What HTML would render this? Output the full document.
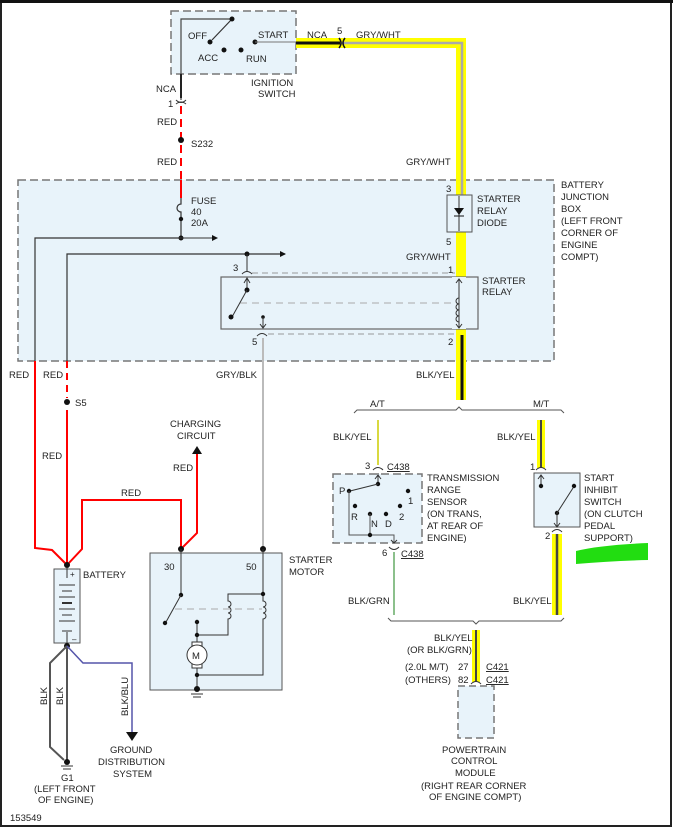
<!DOCTYPE html>
<html><head><style>
html,body{margin:0;padding:0;background:#fff}
svg{display:block}
text{font-family:"Liberation Sans",Arial,sans-serif;font-size:9.5px;fill:#222}
</style></head><body>
<svg width="673" height="827" viewBox="0 0 673 827" xmlns="http://www.w3.org/2000/svg">
<rect x="0" y="0" width="673" height="827" fill="#fff"/>
<rect x="1" y="1" width="670" height="825" fill="none" stroke="#222" stroke-width="2"/>
<line x1="0" y1="1.5" x2="673" y2="1.5" stroke="#111" stroke-width="3"/>

<!-- Battery junction box -->
<rect x="18" y="180" width="536" height="181" fill="#e8f3fa" stroke="#777" stroke-width="1.5" stroke-dasharray="8,4"/>
<!-- Ignition switch box -->
<rect x="171" y="11" width="125" height="63" fill="#e8f3fa" stroke="#777" stroke-width="1.5" stroke-dasharray="8,4"/>

<!-- yellow highlight top wire -->
<path d="M296,43 H461 V400" fill="none" stroke="#ffff00" stroke-width="10"/>
<path d="M341,43 H462 V195" fill="none" stroke="#aaa" stroke-width="2.5"/>
<line x1="296" y1="43" x2="340" y2="43" stroke="#111" stroke-width="3"/>
<path d="M339,38 q4,5 0,10" fill="none" stroke="#111" stroke-width="1.5"/>
<path d="M345,38 q-4,5 0,10" fill="none" stroke="#111" stroke-width="1.5"/>
<text x="307" y="38">NCA</text><text x="337" y="34">5</text><text x="356" y="38">GRY/WHT</text>

<!-- ignition switch internals -->
<path d="M181,100 V19 H232" fill="none" stroke="#444" stroke-width="1.2"/>
<line x1="232" y1="19" x2="212" y2="40" stroke="#333" stroke-width="1.2"/>
<circle cx="232" cy="19" r="2.5" fill="#111"/>
<circle cx="210" cy="42" r="2.5" fill="#111"/>
<circle cx="224" cy="50" r="2.5" fill="#111"/>
<circle cx="241" cy="50" r="2.5" fill="#111"/>
<circle cx="255" cy="42" r="2.5" fill="#111"/>
<line x1="255" y1="42" x2="296" y2="42" stroke="#777" stroke-width="1"/>
<text x="188" y="39">OFF</text><text x="198" y="61">ACC</text><text x="246" y="62">RUN</text><text x="258" y="38">START</text>
<text x="251" y="86">IGNITION</text><text x="258" y="97">SWITCH</text>

<!-- left feed -->
<line x1="181" y1="74" x2="181" y2="98" stroke="#222" stroke-width="2"/>
<path d="M176,100 q5,5 10,0" fill="none" stroke="#333"/><path d="M176,104 q5,-4 10,0" fill="none" stroke="#333"/>
<text x="156" y="92">NCA</text><text x="168" y="107">1</text>
<line x1="181" y1="106" x2="181" y2="180" stroke="#f00" stroke-width="2" stroke-dasharray="8,5"/>
<circle cx="181" cy="140" r="3" fill="#111"/>
<text x="191" y="147">S232</text>
<text x="157" y="125">RED</text><text x="157" y="165">RED</text>
<line x1="181" y1="180" x2="181" y2="198" stroke="#f00" stroke-width="2"/>
<path d="M181,198 V204 a3,3 0 0 0 0,8 V238" fill="none" stroke="#333" stroke-width="1.2"/>
<circle cx="181" cy="219" r="2.2" fill="#111"/>
<circle cx="181" cy="238" r="2.5" fill="#111"/>
<text x="191" y="204">FUSE</text><text x="191" y="215">40</text><text x="191" y="226">20A</text>
<line x1="181" y1="238" x2="213" y2="238" stroke="#333"/><path d="M218,238 l-6,-3 v6z" fill="#111"/>
<path d="M181,238 H35 V361" fill="none" stroke="#333" stroke-width="1.2"/>
<path d="M285,254 H67 V361" fill="none" stroke="#333" stroke-width="1.2"/><path d="M286,254 l-6,-3 v6z" fill="#111"/>
<circle cx="247" cy="254" r="2.5" fill="#111"/>
<line x1="247" y1="254" x2="247" y2="272" stroke="#333"/>

<!-- starter relay -->
<rect x="221" y="277" width="257" height="52" fill="#e8f3fa" stroke="#666" stroke-width="1.2"/>
<line x1="252" y1="273" x2="455" y2="273" stroke="#999" stroke-dasharray="6,4"/>
<line x1="268" y1="334" x2="455" y2="334" stroke="#999" stroke-dasharray="6,4"/>
<line x1="240" y1="303" x2="456" y2="303" stroke="#aaa" stroke-dasharray="7,5"/>
<path d="M242,274 q5,-5 10,0" fill="none" stroke="#333"/>
<line x1="247" y1="279" x2="247" y2="290" stroke="#333"/><path d="M244,283 l3,-5 3,5" fill="none" stroke="#333"/>
<circle cx="247" cy="290" r="2.5" fill="#111"/><line x1="247" y1="290" x2="232" y2="317" stroke="#333"/><circle cx="231" cy="317" r="2.5" fill="#111"/>
<circle cx="263" cy="317" r="1.8" fill="#111"/><line x1="263" y1="317" x2="263" y2="328" stroke="#333"/><path d="M260,324 l3,4 3,-4" fill="none" stroke="#333"/>
<path d="M257,336 q5,-5 10,0" fill="none" stroke="#333"/>
<text x="233" y="271">3</text><text x="252" y="345">5</text><text x="448" y="273">1</text><text x="448" y="345">2</text>
<text x="482" y="284">STARTER</text><text x="482" y="295">RELAY</text>
<!-- coil region -->
<rect x="452" y="277" width="14" height="52" fill="#e8f3fa"/>
<line x1="459" y1="280" x2="459" y2="327" stroke="#333"/>
<path d="M459,298 a3,3 0 0 0 0,6 a3,3 0 0 0 0,6 a3,3 0 0 0 0,6 a3,3 0 0 0 0,6" fill="none" stroke="#333"/>
<path d="M456,283 l3,-4 3,4" fill="none" stroke="#333"/><path d="M456,324 l3,4 3,-4" fill="none" stroke="#333"/>
<!-- diode -->
<rect x="447" y="195" width="25" height="37" fill="#e8f3fa" stroke="#555"/>
<line x1="459" y1="196" x2="459" y2="231" stroke="#333"/>
<path d="M454,208 h10 l-5,7z" fill="#111"/><line x1="454" y1="216" x2="464" y2="216" stroke="#111"/>
<text x="446" y="192">3</text><text x="446" y="245">5</text>
<text x="477" y="202">STARTER</text><text x="477" y="214">RELAY</text><text x="477" y="226">DIODE</text>
<text x="406" y="165">GRY/WHT</text><text x="406" y="260">GRY/WHT</text>
<line x1="462" y1="335" x2="462" y2="400" stroke="#111" stroke-width="3"/>
<text x="561" y="188">BATTERY</text><text x="561" y="200">JUNCTION</text><text x="561" y="212">BOX</text><text x="561" y="224">(LEFT FRONT</text><text x="561" y="236">CORNER OF</text><text x="561" y="248">ENGINE</text><text x="561" y="260">COMPT)</text>

<!-- GRY/BLK -->
<line x1="263" y1="338" x2="263" y2="548" stroke="#bbb" stroke-width="2"/>
<text x="216" y="378">GRY/BLK</text>
<text x="416" y="378">BLK/YEL</text>

<!-- red wires left -->
<path d="M35,361 V548 L52,550 L67,565" fill="none" stroke="#f00" stroke-width="2"/>
<line x1="67" y1="361" x2="67" y2="398" stroke="#f00" stroke-width="2" stroke-dasharray="7,5"/>
<circle cx="67" cy="402" r="3" fill="#111"/><text x="75" y="406">S5</text>
<path d="M67,410 V565 L82,549 V500 H181 V549 L197,533 V452" fill="none" stroke="#f00" stroke-width="2"/>
<path d="M197,446 l-5,8 h10z" fill="#111"/>
<text x="9" y="378">RED</text><text x="43" y="378">RED</text><text x="42" y="459">RED</text><text x="121" y="496">RED</text><text x="173" y="471">RED</text>
<text x="170" y="427">CHARGING</text><text x="177" y="439">CIRCUIT</text>

<!-- battery -->
<rect x="54" y="569" width="26" height="74" fill="#e8f3fa" stroke="#555"/>
<circle cx="67" cy="565" r="3" fill="#111"/><circle cx="67" cy="646" r="3" fill="#111"/>
<line x1="67" y1="568" x2="67" y2="578" stroke="#333"/><line x1="67" y1="632" x2="67" y2="643" stroke="#333"/>
<g stroke="#333"><line x1="59" y1="585" x2="75" y2="585"/><line x1="62" y1="591" x2="72" y2="591"/><line x1="59" y1="597" x2="75" y2="597"/><line x1="62" y1="603" x2="72" y2="603" stroke-width="2"/><line x1="59" y1="609" x2="75" y2="609"/><line x1="62" y1="615" x2="72" y2="615"/><line x1="59" y1="621" x2="75" y2="621"/><line x1="62" y1="631" x2="72" y2="631"/></g>
<text x="70" y="577" style="font-size:8px">+</text><text x="72" y="642" style="font-size:8px">–</text>
<text x="83" y="578">BATTERY</text>
<path d="M67,646 L50,663 V747 L64,760" fill="none" stroke="#555" stroke-width="2"/>
<line x1="67" y1="646" x2="67" y2="760" stroke="#555" stroke-width="2"/>
<path d="M67,646 L83,663 H132 V732" fill="none" stroke="#55a" stroke-width="1.5"/>
<path d="M126,732 h12 l-6,9z" fill="#111"/>
<circle cx="67" cy="762" r="3" fill="#111"/>
<line x1="61" y1="766" x2="73" y2="766" stroke="#333"/><line x1="63" y1="769" x2="71" y2="769" stroke="#333"/>
<text transform="translate(47,705) rotate(-90)">BLK</text>
<text transform="translate(63,705) rotate(-90)">BLK</text>
<text transform="translate(128,716) rotate(-90)">BLK/BLU</text>
<text x="110" y="753">GROUND</text><text x="98" y="765">DISTRIBUTION</text><text x="113" y="777">SYSTEM</text>
<text x="61" y="781">G1</text><text x="34" y="792">(LEFT FRONT</text><text x="38" y="803">OF ENGINE)</text>
<text x="10" y="821">153549</text>

<!-- starter motor -->
<rect x="150" y="553" width="132" height="137" fill="#e8f3fa" stroke="#555"/>
<circle cx="181" cy="549" r="3" fill="#111"/><circle cx="263" cy="549" r="3" fill="#111"/>
<text x="164" y="570">30</text><text x="246" y="570">50</text>
<text x="289" y="563">STARTER</text><text x="289" y="575">MOTOR</text>
<line x1="181" y1="549" x2="181" y2="595" stroke="#333"/><circle cx="181" cy="595" r="2.2" fill="#111"/>
<line x1="181" y1="595" x2="166" y2="622" stroke="#333"/><circle cx="165" cy="623" r="2.2" fill="#111"/>
<line x1="175" y1="609" x2="262" y2="609" stroke="#aaa" stroke-dasharray="7,5"/>
<path d="M263,549 V594 H228 V601 a3,3 0 0 1 0,6 a3,3 0 0 1 0,6 a3,3 0 0 1 0,6 V635 H197" fill="none" stroke="#333"/>
<path d="M263,594 V601 a3,3 0 0 1 0,6 a3,3 0 0 1 0,6 a3,3 0 0 1 0,6 V675 H197" fill="none" stroke="#333"/>
<circle cx="263" cy="594" r="2.2" fill="#111"/>
<line x1="197" y1="622" x2="197" y2="689" stroke="#333"/>
<circle cx="197" cy="622" r="2.2" fill="#111"/><circle cx="197" cy="635" r="2.2" fill="#111"/><circle cx="197" cy="675" r="2.2" fill="#111"/><circle cx="197" cy="689" r="3" fill="#111"/>
<rect x="192" y="642" width="10" height="4" fill="#fff" stroke="#333"/><rect x="192" y="664" width="10" height="4" fill="#fff" stroke="#333"/>
<circle cx="197" cy="655" r="10" fill="#fff" stroke="#333"/><text x="192" y="659">M</text>
<line x1="191" y1="694" x2="203" y2="694" stroke="#333"/><line x1="193" y1="697" x2="201" y2="697" stroke="#333"/>

<!-- bracket top -->
<path d="M354,413 l3,-3 H456 l3,-3 3,3 H561 l3,3" fill="none" stroke="#555"/>
<text x="370" y="407">A/T</text><text x="533" y="407">M/T</text>
<line x1="378" y1="420" x2="378" y2="465" stroke="#cc0" stroke-width="1.5"/>
<line x1="541" y1="420" x2="541" y2="468" stroke="#ffff00" stroke-width="8"/>
<line x1="541" y1="420" x2="541" y2="468" stroke="#444" stroke-width="2"/>
<text x="333" y="440">BLK/YEL</text><text x="497" y="440">BLK/YEL</text>
<!-- TRS -->
<rect x="333" y="474" width="89" height="69" fill="#e8f3fa" stroke="#777" stroke-width="1.5" stroke-dasharray="8,4"/>
<path d="M373,470 q5,-5 10,0" fill="none" stroke="#333"/>
<text x="365" y="469">3</text><text x="387" y="470" text-decoration="underline">C438</text>
<line x1="378" y1="473" x2="378" y2="484" stroke="#333"/><path d="M375,479 l3,-4 3,4" fill="none" stroke="#333"/>
<circle cx="378" cy="484" r="2.2" fill="#111"/><line x1="378" y1="484" x2="350" y2="491" stroke="#333"/><circle cx="349" cy="491" r="2.2" fill="#111"/>
<path d="M349,491 V535 H394 V543" fill="none" stroke="#555"/>
<circle cx="370" cy="514" r="2.2" fill="#111"/><line x1="370" y1="514" x2="370" y2="535" stroke="#555"/><circle cx="370" cy="535" r="2.2" fill="#111"/>
<circle cx="355" cy="506" r="2.2" fill="#111"/><circle cx="386" cy="514" r="2.2" fill="#111"/><circle cx="400" cy="506" r="2.2" fill="#111"/><circle cx="408" cy="491" r="2.2" fill="#111"/>
<text x="339" y="494">P</text><text x="351" y="520">R</text><text x="371" y="527">N</text><text x="385" y="527">D</text><text x="399" y="520">2</text><text x="408" y="504">1</text>
<path d="M391,540 l3,3 3,-3" fill="none" stroke="#333"/>
<path d="M389,547 q5,5 10,0" fill="none" stroke="#333"/>
<text x="382" y="556">6</text><text x="401" y="557" text-decoration="underline">C438</text>
<text x="427" y="481">TRANSMISSION</text><text x="427" y="493">RANGE</text><text x="427" y="505">SENSOR</text><text x="427" y="517">(ON TRANS,</text><text x="427" y="529">AT REAR OF</text><text x="427" y="541">ENGINE)</text>
<line x1="394" y1="552" x2="394" y2="615" stroke="#6a6" stroke-width="1.5"/>
<text x="348" y="604">BLK/GRN</text>
<!-- start inhibit -->
<rect x="534" y="473" width="46" height="54" fill="#e8f3fa" stroke="#555"/>
<path d="M536,470 q5,-5 10,0" fill="none" stroke="#333"/>
<text x="530" y="470">1</text><text x="545" y="539">2</text>
<line x1="541" y1="475" x2="541" y2="486" stroke="#333"/><path d="M538,479 l3,-4 3,4" fill="none" stroke="#333"/>
<circle cx="541" cy="486" r="2.2" fill="#111"/><circle cx="574" cy="486" r="2.2" fill="#111"/>
<circle cx="557" cy="513" r="2.2" fill="#111"/><line x1="557" y1="513" x2="573" y2="488" stroke="#333"/>
<line x1="557" y1="513" x2="557" y2="526" stroke="#333"/><path d="M554,523 l3,4 3,-4" fill="none" stroke="#333"/>
<path d="M552,532 q5,-5 10,0" fill="none" stroke="#333"/>
<text x="584" y="481">START</text><text x="584" y="493">INHIBIT</text><text x="584" y="505">SWITCH</text><text x="584" y="517">(ON CLUTCH</text><text x="584" y="529">PEDAL</text><text x="584" y="541">SUPPORT)</text>
<line x1="557" y1="534" x2="557" y2="615" stroke="#ffff00" stroke-width="10"/>
<line x1="557" y1="534" x2="557" y2="615" stroke="#444" stroke-width="2.5"/>
<text x="513" y="604">BLK/YEL</text>
<path d="M576,551 Q600,545 648,543 L648,560 Q610,561 576,564z" fill="#22dd11"/>
<!-- lower bracket -->
<path d="M388,618 l3,3 H473 l3,3 3,-3 H561 l3,-3" fill="none" stroke="#555"/>
<line x1="476" y1="630" x2="476" y2="682" stroke="#ffff00" stroke-width="8"/>
<line x1="476" y1="630" x2="476" y2="682" stroke="#444" stroke-width="2"/>
<text x="434" y="641">BLK/YEL</text><text x="407" y="653">(OR BLK/GRN)</text>
<text x="405" y="670">(2.0L M/T)</text><text x="458" y="670">27</text><text x="486" y="670" text-decoration="underline">C421</text>
<text x="405" y="683">(OTHERS)</text><text x="458" y="683">82</text><text x="486" y="683" text-decoration="underline">C421</text>
<path d="M471,684 q5,-5 10,0" fill="none" stroke="#333"/>
<rect x="458" y="686" width="36" height="52" fill="#e8f3fa" stroke="#777" stroke-width="1.5" stroke-dasharray="7,4"/>
<text x="442" y="753">POWERTRAIN</text><text x="451" y="764">CONTROL</text><text x="455" y="776">MODULE</text>
<text x="421" y="789">(RIGHT REAR CORNER</text><text x="429" y="800">OF ENGINE COMPT)</text>
</svg>
</body></html>
